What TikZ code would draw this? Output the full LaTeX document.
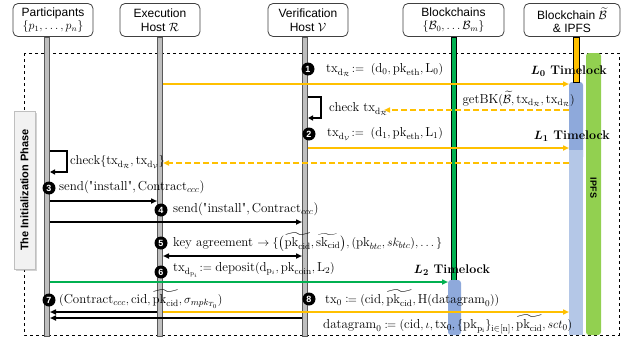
\documentclass[tikz,border=0pt]{standalone}
\usepackage{amsmath,amssymb,mathtools}
\usepackage{fontspec}
\setsansfont{Liberation Sans}
\usetikzlibrary{arrows.meta,shadows,calc}
\definecolor{orng}{HTML}{FFC000}
\definecolor{grn}{HTML}{00B050}
\definecolor{lgrn}{HTML}{92D050}
\definecolor{blu}{HTML}{8EA9DB}
\definecolor{lblu}{HTML}{B4C7E7}
\definecolor{lgray}{HTML}{BFBFBF}
\newcommand{\rmx}[1]{\mathrm{#1}}
\tikzset{
  hdr/.style={draw=black!75, rounded corners=5pt, fill=white, minimum height=33pt, align=center, font=\sffamily\fontsize{12}{13.5}\selectfont, line width=0.8pt, inner sep=1pt},
  life/.style={draw=black!65, fill=lgray, line width=0.7pt},
  num/.style={circle, fill=black, text=white, font=\sffamily\bfseries\fontsize{9}{9}\selectfont, inner sep=0pt, minimum size=13pt},
  lbl/.style={anchor=west, font=\fontsize{13}{14}\selectfont, inner sep=0pt},
  msg/.style={line width=1.5pt, -{Triangle[length=6pt,width=5pt]}},
  omsg/.style={msg, draw=orng},
  dmsg/.style={omsg, dash pattern=on 6pt off 3pt},
  tlk/.style={font=\bfseries\fontsize{12.5}{13}\selectfont, inner sep=0pt},
}
\begin{document}
\begin{tikzpicture}[x=1pt,y=-1pt]
\useasboundingbox (0,0) rectangle (641,343);
% frame
\draw[dashed, line width=0.6pt] (24,53) rectangle (619,335);
% bars
\fill[lgrn, rounded corners=3pt] (586,53) rectangle (601,335);
\node[rotate=-90, font=\sffamily\bfseries\fontsize{9}{9}\selectfont] (ipfs) at (593.5,188) {IPFS};
\fill[blu, rounded corners=3pt] (569,82) rectangle (583,160);
\fill[lblu] (569,150) rectangle (583,335);
% lifelines
\draw[life] (44.5,37) rectangle (49.5,336);
\draw[life] (157.5,37) rectangle (162.5,336);
\draw[life] (302.5,37) rectangle (307.5,336);
\draw[draw=black, fill=grn, line width=0.7pt] (451,37) rectangle (456,282);
\fill[blu, rounded corners=3pt] (448,280) rectangle (461,335);
\draw[draw=black, fill=orng, line width=0.7pt] (573,37) rectangle (579,82);
% headers
\node[hdr, minimum width=80pt] (P) at (53,20) {Participants\\$\{p_1,\dots,p_n\}$};
\node[hdr, minimum width=80pt] (R) at (160,20) {Execution\\Host $\mathcal{R}$};
\node[hdr, minimum width=80pt] (V) at (308,20) {Verification\\Host $\mathcal{V}$};
\node[hdr, minimum width=101pt] (Bc) at (453.5,20) {Blockchains\\$\{\mathcal{B}_0,\dots\mathcal{B}_m\}$};
\node[hdr, minimum width=96pt] (Bt) at (572,20) {Blockchain $\widetilde{\mathcal{B}}$\\[-1pt]\& IPFS};
% phase label
\node[draw=black!25, fill=black!5, drop shadow={opacity=0.35, shadow xshift=1.5pt, shadow yshift=-1.5pt}, rotate=90, font=\sffamily\bfseries\fontsize{11}{12}\selectfont, minimum width=158pt, minimum height=21pt, inner sep=0pt] (phase) at (24.5,190) {The Initialization Phase};

% coordinates
\coordinate (a1s) at (163,84);   \coordinate (a1e) at (569,84);
\coordinate (g0s) at (569,110);  \coordinate (g0e) at (384,110);
\coordinate (a2s) at (308,148);  \coordinate (a2e) at (569,148);
\coordinate (d2s) at (569,163);  \coordinate (d2e) at (163,163);
\coordinate (a3s) at (50,201);   \coordinate (a3e) at (157,201);
\coordinate (a4s) at (50,222);   \coordinate (a4e) at (302,222);
\coordinate (a5s) at (163,256);  \coordinate (a5e) at (302,256);
\coordinate (a6s) at (50,282);   \coordinate (a6e) at (448,282);
\coordinate (a7s) at (157,312);  \coordinate (a7e) at (50,312);
\coordinate (b7s) at (302,318);  \coordinate (b7e) at (50,318);
\coordinate (a8s) at (163,312);  \coordinate (a8e) at (569,312);

% step 1
\node[num] (n1) at (308,69) {1};
\node[lbl] (t1) at (326,70) {$\rmx{tx}_{\rmx{d}_{\mathcal{R}}}\!:=\;(\rmx{d}_0,\rmx{pk}_{\rmx{eth}},\rmx{L}_0)$};
\node[tlk, anchor=east] (L0) at (607,71) {$\boldsymbol{L_0}$ Timelock};
\draw[omsg] (a1s) -- (a1e);
\node[lbl, anchor=east] (gb) at (575,99) {$\rmx{getBK}(\widetilde{\mathcal{B}},\rmx{tx}_{\rmx{d}_{\mathcal{R}}},\rmx{tx}_{\rmx{d}_{\mathcal{R}}})$};
\draw[dmsg] (g0s) -- (g0e);
\draw[line width=1.5pt, -{Triangle[length=5pt,width=5pt]}] (308,97) -| (321,118) -- (308,118);
\node[lbl] (c1) at (329,109) {check $\rmx{tx}_{\rmx{d}_{\mathcal{R}}}$};
% step 2
\node[num] (n2) at (309,134) {2};
\node[lbl] (t2) at (327,134) {$\rmx{tx}_{\rmx{d}_{\mathcal{V}}}\!:=\;(\rmx{d}_1,\rmx{pk}_{\rmx{eth}},\rmx{L}_1)$};
\node[tlk, anchor=east] (L1) at (610,136) {$\boldsymbol{L_1}$ Timelock};
\draw[omsg] (a2s) -- (a2e);
\draw[dmsg] (d2s) -- (d2e);
\draw[line width=1.5pt, -{Triangle[length=5pt,width=5pt]}] (50,151) -| (67,172) -- (50,172);
\node[lbl] (c2) at (70,162) {check$\{\rmx{tx}_{\rmx{d}_{\mathcal{R}}},\rmx{tx}_{\rmx{d}_{\mathcal{V}}}\}$};
% step 3
\node[num] (n3) at (49,188) {3};
\node[lbl] (t3) at (59,187) {send(\textquotedbl install\textquotedbl,$\,$Contract$_{ccc}$)};
\draw[msg] (a3s) -- (a3e);
% step 4
\node[num] (n4) at (161,210) {4};
\node[lbl] (t4) at (173,209) {send(\textquotedbl install\textquotedbl,$\,$Contract$_{ccc}$)};
\draw[msg] (a4s) -- (a4e);
% step 5
\node[num] (n5) at (161,243) {5};
\node[lbl] (t5) at (173,242) {key agreement $\rightarrow\{\big(\widetilde{\rmx{pk}_{\rmx{cid}}},\widetilde{\rmx{sk}_{\rmx{cid}}}\big),(\rmx{pk}_{btc},sk_{btc}),\dots\}$};
\draw[line width=1.5pt, {Triangle[length=6pt,width=5pt]}-{Triangle[length=6pt,width=5pt]}] (a5s) -- (a5e);
% step 6
\node[num] (n6) at (161,272) {6};
\node[lbl] (t6) at (173,270) {$\rmx{tx}_{\rmx{d}_{\rmx{p}_i}}\!:=\rmx{deposit}(\rmx{d}_{\rmx{p}_i},\rmx{pk}_{\rmx{coin}},\rmx{L}_2)$};
\node[tlk] (L2) at (452,270) {$\boldsymbol{L_2}$ Timelock};
\draw[msg, draw=grn] (a6s) -- (a6e);
% step 7
\node[num] (n7) at (49,300) {7};
\node[lbl] (t7) at (59,299) {$(\rmx{Contract}_{ccc},\rmx{cid},\widetilde{\rmx{pk}_{\rmx{cid}}},\sigma_{mpk_{T_0}})$};
\draw[msg] (a7s) -- (a7e);
\draw[msg] (b7s) -- (b7e);
% step 8
\node[num] (n8) at (309,299) {8};
\node[lbl] (t8) at (325,298) {$\rmx{tx}_0\coloneqq(\rmx{cid},\widetilde{\rmx{pk}_{\rmx{cid}}},\rmx{H}(\rmx{datagram}_0))$};
\draw[omsg] (a8s) -- (a8e);
\node[lbl] (t9) at (323,324) {$\rmx{datagram}_0\coloneqq(\rmx{cid},\iota,\rmx{tx}_0,\{\rmx{pk}_{\rmx{p}_\rmx{i}}\}_{\rmx{i}\in[\rmx{n}]},\widetilde{\rmx{pk}_{\rmx{cid}}},sct_0)$};
\end{tikzpicture}
\end{document}
